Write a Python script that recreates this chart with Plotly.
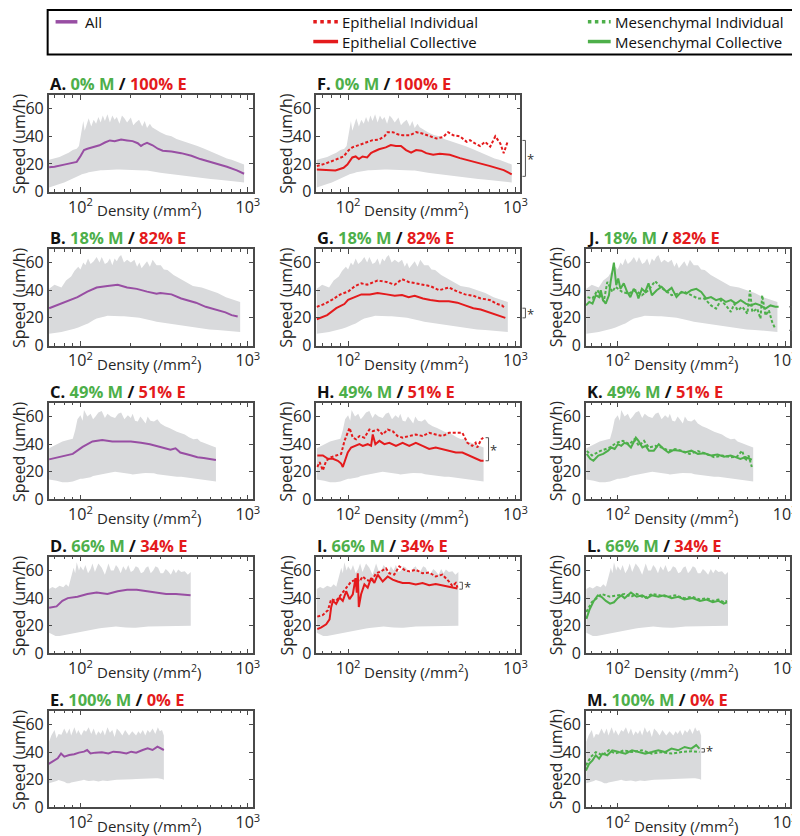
import math
import plotly.graph_objects as go

W, H = 800, 836
PURPLE = "#984EA3"
RED = "#E41A1C"
GREEN = "#4DAF4A"
BAND = "#D9DADC"
FRAME = "#4a4a4a"
FONT = "Open Sans"

# ---------------- data (density /mm^2, speed um/h) ----------------
# grey bands (one per row)
r1_x = [65, 70, 75, 80, 85, 90, 95, 98, 100, 102, 104, 106, 109, 112, 116, 120, 124, 128, 132, 136, 140, 145, 150, 155, 160, 165, 171, 177, 183, 190, 200, 207, 214, 224, 234, 242, 250, 260, 268, 280, 300, 325, 350, 375, 400, 450, 500, 550, 600, 650, 700, 750, 800, 850, 900, 950]
r1_hi = [23, 24, 25, 26.6, 28, 30, 31, 33, 40, 47, 51, 44, 48, 53, 47, 52, 49, 54, 50, 55, 51, 56, 50, 55, 52, 54, 49, 55, 53, 50, 53.6, 48, 50, 52, 47, 51, 46, 49, 46.6, 45, 43, 41, 40, 38, 37, 35, 33, 31, 29, 27, 25.4, 24, 23, 22, 20.7, 19.5]
r1_lo = [3, 4.2, 5.5, 6.6, 8, 9, 10.5, 11.5, 12, 12.5, 13, 13.2, 13.5, 14, 14.5, 14.8, 15, 15.2, 15.4, 15.5, 15.6, 15.8, 16, 16, 16, 16, 16, 16, 16, 16, 16, 15.9, 15.8, 15.6, 15.4, 15.3, 15.3, 15, 14.8, 14.4, 13.6, 13, 12.4, 11.8, 11.3, 10.6, 10, 9.5, 9, 8.8, 8.5, 8.2, 7.8, 7.4, 7, 6.6]

r2_x = [65, 70, 77, 82, 88, 92, 97, 100, 104, 107, 111, 115, 120, 125, 130, 134, 140, 145, 150, 155, 160, 165, 170, 175, 182, 190, 200, 210, 218, 225, 232, 240, 250, 260, 270, 285, 302, 315, 331, 360, 390, 430, 470, 530, 590, 660, 740, 820, 900]
r2_hi = [41, 44, 42, 47, 50, 54, 57, 55, 60, 58, 63, 59, 61, 64, 60, 64, 59, 60, 63, 58, 63, 61, 64, 65.5, 60, 62, 60, 62, 57, 60, 56, 58, 61, 57, 62, 58, 58, 55, 54.6, 51, 48.5, 46, 43, 42, 40, 38, 35, 33, 31.5]
r2_lo = [8.5, 9, 9.7, 10.5, 11.5, 12.2, 13, 13.8, 14.5, 15.2, 16, 17, 18.5, 19.5, 20, 20.5, 21, 21.5, 21.8, 21.8, 21.6, 21.5, 21.3, 21.2, 21.1, 21, 20.8, 20.5, 20.2, 20, 19.8, 19.4, 19, 18.5, 18, 17.2, 16.5, 16.2, 15.8, 15.2, 14.6, 14, 13.3, 12.4, 11.6, 11.3, 11, 10.3, 9.7]

r3_x = [65, 72, 78, 84, 90, 93, 96, 100, 103, 105, 110, 115, 119, 123, 128, 134, 140, 145, 152, 161, 168, 175, 183, 192, 200, 205, 212, 220, 228, 235, 245, 252, 262, 275, 288, 301, 320, 340, 360, 377, 400, 420, 445, 473, 500, 520, 545, 566, 600, 645]
r3_hi = [37, 40, 42, 43, 44, 50, 58, 61, 57, 64.7, 60, 62, 58, 60, 63, 64, 59, 62, 60, 59, 62, 63, 58, 61, 59, 62, 57, 56.5, 60, 58, 55, 60, 57, 56.5, 58, 55, 53, 51.8, 50, 49, 48, 47, 45, 43.5, 44, 42, 41, 40, 39, 37.6]
r3_lo = [14.5, 13.5, 12.5, 12.5, 13, 13.5, 14, 15, 15, 15, 15.5, 16, 17, 17.5, 18, 18.5, 18.8, 19, 19.5, 20, 19.5, 19, 18.9, 18.8, 18.5, 18, 18, 18.5, 18.8, 19, 19.2, 19.5, 19.3, 19, 18.3, 17.6, 17.3, 17, 16.8, 16.5, 16.5, 16.5, 15.8, 15, 14.8, 14.5, 14.2, 14, 13.5, 13]

r4_x = [65, 68, 71, 75, 79, 82, 85, 88, 91, 93, 95, 98, 100, 104, 107, 111, 115, 118, 122, 128, 134, 140, 147, 152, 158, 163, 168, 174, 180, 187, 193, 200, 207, 214, 222, 230, 238, 246, 254, 263, 272, 281, 291, 301, 312, 323, 334, 347, 360, 372, 384, 400, 420, 438, 456]
r4_hi = [46.6, 48, 47, 49, 47.8, 50, 48.2, 55, 62, 58, 66, 60, 63, 60, 64, 58, 61, 65, 59, 65, 62, 57, 65, 60, 60, 64, 62, 58, 63, 60, 64, 59, 60, 63, 62, 58, 59, 62, 63, 58, 60, 63, 62, 58, 58, 61, 59.5, 57, 61, 58, 60.7, 59, 59.5, 57, 59]
r4_lo = [15, 13.5, 12.5, 12.5, 13, 13.3, 13.6, 14, 14.5, 14.8, 15, 15.2, 15.5, 15.8, 16, 16.5, 17, 17.2, 17.5, 18, 18.4, 18.7, 19, 19.2, 19.3, 19.4, 19.5, 19.2, 19, 18.7, 18.4, 18.5, 18.6, 18.5, 18.4, 18.7, 19, 19.3, 19.5, 19.5, 19.5, 19.5, 19.5, 19.5, 19.5, 19.5, 19.5, 19.5, 19.5, 19.5, 19.5, 19.8, 20, 20, 20]

r5_x = [65, 67, 70, 72, 74, 77, 80, 83, 86, 88, 92, 95, 97, 101, 105, 108, 112, 116, 120, 124, 128, 132, 136, 140, 145, 150, 155, 160, 165, 172, 178, 185, 195, 204, 215, 222, 228, 236, 244, 252, 260, 270, 280, 290, 298, 307, 315]
r5_hi = [47.5, 52, 56, 50, 53, 52.6, 57, 53, 57, 52, 58, 53, 56, 52, 56, 54.7, 58, 53, 57, 52, 55, 53, 56, 52, 58, 54, 56, 51, 57, 54.7, 52, 56, 52, 55, 52, 55, 53, 56, 52, 56, 54, 57, 53, 58, 55, 56, 52]
r5_lo = [17.5, 18, 18.5, 19, 19.7, 19, 18.5, 17.5, 17.5, 18, 18.7, 19, 19.2, 19.5, 19.9, 19.5, 19, 19.3, 19.5, 19, 18.7, 19, 19.5, 19.2, 19, 19.3, 19.5, 19.8, 20, 20.2, 20.3, 20.5, 20.4, 20.4, 20.5, 20.8, 21, 20.8, 20.7, 20.8, 21, 21, 21, 21, 21, 20.5, 20]

# column 1: all cells
A_x = [65, 70, 80, 90, 95, 100, 105, 110, 120, 130, 140, 150, 160, 175, 190, 205, 220, 230, 240, 250, 270, 290, 310, 350, 400, 460, 520, 600, 650, 750, 860, 950]
A_all = [17.6, 18, 19.5, 20.5, 21.5, 25.5, 30, 31, 32.3, 33.5, 35.5, 37, 36.5, 37.6, 37, 36.5, 35, 33, 34.4, 35.3, 33.5, 31, 29.6, 29, 27.8, 25.9, 23.5, 21.4, 20, 17.9, 15.3, 12.9]

B_x = [65, 78, 96, 110, 125, 145, 167, 190, 217, 250, 285, 300, 350, 400, 428, 490, 560, 640, 735, 800, 870]
B_all = [27, 31, 35, 39, 42, 43, 44, 42, 41, 39, 37.5, 38, 37, 34, 33, 31, 28, 26, 24, 22, 21]

C_x = [65, 78, 90, 103, 118, 135, 155, 175, 200, 230, 260, 300, 345, 370, 395, 455, 500, 545, 600, 645]
C_all = [29, 31, 33, 38, 42, 43, 42, 42, 42, 41, 40, 38, 36, 37, 34, 32, 30.5, 30, 29, 28.5]

D_x = [65, 72, 78, 84, 96, 110, 125, 145, 167, 190, 217, 250, 285, 325, 372, 425, 455]
D_all = [33, 34, 38, 40, 41, 43, 44, 43, 45, 46, 46, 45, 44, 43, 43, 42, 42]

E_x = [64.6, 68.5, 73.2, 76.6, 80.1, 85.7, 91.7, 98, 105, 109.7, 114.8, 122.8, 134.3, 146.9, 157.2, 172, 188.2, 201.2, 215.3, 235.5, 252, 269.6, 288.4, 315]
E_all = [31.4, 33.6, 35.5, 39, 36.7, 37.9, 38.4, 39.6, 40.3, 41.5, 39, 39.6, 39.8, 39, 40.3, 39.8, 39, 40.3, 39.6, 41.5, 42.7, 41.5, 43.9, 41.5]

# column 2: epithelial
F_coll_x = [65, 84, 94, 99, 106, 111, 116, 122, 130, 137, 143, 153, 168, 180, 193, 207, 222, 238, 255, 274, 293, 322, 353, 405, 466, 535, 615, 707, 851, 950]
F_coll = [16, 15.3, 17.2, 19.5, 24.7, 25.4, 23.5, 25.4, 24.7, 27.8, 29, 30.6, 32, 33.6, 33, 33, 30, 28.2, 30, 29.6, 27.8, 26.6, 27.3, 26.6, 24.2, 22.4, 20.2, 18.4, 15.5, 12.5]
F_ind_x = [65, 73, 84, 94, 101, 106, 116, 128, 140, 153, 165, 172, 185, 198, 212, 233, 255, 280, 307, 337, 370, 396, 425, 466, 511, 535, 574, 615, 659, 707, 758, 812, 851, 897]
F_ind = [18.4, 20.2, 23, 25.4, 30, 32, 33.6, 35.3, 37.2, 37.6, 40, 43, 43, 41.4, 40.7, 40.7, 43, 41.9, 40, 38.4, 39.5, 43, 40.7, 40, 36, 37.2, 34.8, 33, 36, 32.5, 40, 34.8, 27.8, 36]

G_coll_x = [65, 75, 85, 95, 100, 110, 120, 135, 150, 170, 190, 210, 230, 250, 280, 310, 350, 400, 450, 500, 560, 620, 700, 780, 870]
G_coll = [19, 22, 27, 30, 33, 35, 37, 37, 38, 37, 36, 36.5, 35, 36, 34, 33, 32, 32, 31, 29, 27, 26, 24, 22, 20]
G_ind_x = [65, 72, 80, 90, 100, 110, 120, 130, 150, 170, 190, 210, 230, 250, 280, 310, 350, 400, 450, 500, 560, 620, 700, 780, 830, 870]
G_ind = [28, 30, 33, 37, 39, 43, 45, 44, 47, 46, 44, 48, 46, 45, 44, 43, 40, 42, 39, 37, 36, 34, 33, 30, 29, 27]

H_coll_x = [65.5, 70.7, 75.8, 81.2, 86.9, 90.9, 93, 95.2, 99.6, 104.3, 109.2, 116.9, 122.4, 131, 137.2, 140.4, 145.6, 153.8, 164.7, 176.4, 193.2, 211.7, 232, 254, 278.5, 305, 334, 366, 401, 440, 482, 528, 578, 620, 645]
H_coll = [31.8, 31.8, 29.4, 29.4, 28, 26, 23.5, 27, 34, 37.6, 38.8, 40, 38.8, 40, 38.8, 47, 40, 42.4, 40, 41, 38.8, 41, 38.8, 41, 38.8, 36.5, 37.6, 36.5, 35.3, 34, 34, 31.8, 29.4, 28, 28]
H_ind_x = [65.5, 67.6, 70.7, 74, 79.3, 84.9, 90.9, 95.2, 99.6, 102, 106.7, 111.7, 116.9, 125.2, 134.1, 140.4, 150.3, 161, 172.4, 184.6, 197.7, 211.7, 232, 254, 278.5, 305, 334, 366, 401, 440, 482, 516, 552, 578, 591, 625, 642]
H_ind = [23.5, 27, 21, 28, 30.6, 31.8, 33, 42.4, 49.4, 51.8, 44.7, 43.5, 45.9, 44.7, 50.6, 49.4, 50.6, 47, 50.6, 49.4, 45.9, 44.7, 45.9, 47, 45.9, 48.2, 47, 45.9, 48.2, 48.2, 48.2, 41, 38.8, 41, 37.6, 43.5, 44.7]

I_coll_x = [65.5, 69.2, 74, 77.5, 79.3, 81.2, 84.9, 88.9, 93, 97.4, 102, 106.7, 109.2, 110.7, 112.7, 114.3, 115.9, 119.6, 125.2, 131, 137.2, 143.6, 150.3, 161, 172.4, 184.6, 197.7, 211.7, 232, 254, 278.5, 305, 334, 366, 392, 420, 450]
I_coll = [17.6, 18.8, 21, 24.7, 33.6, 38, 35.8, 40.5, 38, 45, 39.3, 42.8, 50, 54.5, 44, 58, 33.6, 42.8, 50, 47.6, 54.5, 51, 57, 52, 55.7, 53.4, 52, 51, 51, 49.9, 51, 49.4, 50.3, 49.4, 48.7, 47.6, 47]
I_ind_x = [65.5, 70.7, 75.8, 79.3, 84.9, 90.9, 97.4, 104.3, 111.7, 116.9, 122.4, 128, 137.2, 147, 157, 168.4, 176.4, 188.8, 202.3, 216.6, 232, 254, 278.5, 305, 334, 366, 401, 420, 440, 450]
I_ind = [26.6, 27.8, 31.3, 39.3, 38, 42.8, 47.6, 52, 53.4, 52, 55.7, 53.4, 52, 58, 59.3, 61.6, 58, 57, 63, 60.5, 59.3, 60.5, 58, 58.5, 55.7, 57, 52, 48.7, 51, 47.6]

# column 3: mesenchymal
J_coll_x = [64.6, 67.6, 70.7, 74, 77.4, 79.2, 81.7, 84.8, 88.7, 90.7, 94.9, 98, 100.7, 103.9, 108.7, 113.8, 119, 124.6, 130.3, 133, 139.5, 146, 152.8, 160, 171, 183, 196, 210, 224.5, 240, 257, 275, 295, 315.5, 338, 361, 387, 414, 443, 475, 508, 543, 582, 622, 666, 713, 764, 817, 875, 915]
J_coll = [29, 31.5, 30.3, 36.4, 35, 40, 32.8, 30.3, 36.4, 46, 60, 43.7, 48.5, 41, 45, 38.8, 35, 41, 37.6, 34, 41, 38.8, 45, 36.4, 40, 42.5, 38.8, 41.7, 35, 38.8, 37.6, 40, 41, 38.8, 34, 35, 32.8, 34, 31.5, 32.8, 30.3, 32.8, 30.3, 29, 30.3, 29, 26.7, 29, 28, 28]
J_ind_x = [66, 70.7, 75.7, 82.6, 86.7, 92.8, 97, 106.3, 116.3, 127.3, 139.5, 152.8, 167.3, 179.6, 191.5, 210, 229.6, 251, 275, 301, 330, 361, 387, 414, 443, 475, 497, 520, 556, 595, 617, 637, 682, 713, 730, 764, 800, 837, 875]
J_ind = [35, 34, 40, 32, 46, 38.8, 42.5, 38.8, 37.6, 40, 36.4, 40, 46.6, 42.5, 40, 36.4, 37.6, 38.8, 36.4, 34, 34, 29, 26.7, 32.8, 29, 24.3, 30.3, 25.5, 28, 23, 40, 24.3, 26.7, 19.4, 36.4, 21.8, 25.5, 17, 12]

K_coll_x = [65.3, 68.5, 71.6, 76.6, 81.9, 87.6, 91.6, 95.9, 100.3, 105, 109.7, 114.8, 120, 128.4, 133.1, 140.5, 147, 153.7, 164.4, 175.9, 188.2, 201.3, 215.3, 235.5, 252, 275.6, 301.6, 330, 361, 395, 432, 473, 506, 541, 579, 605, 633]
K_coll = [33, 29.4, 28, 31.8, 33, 35.3, 37.6, 36.5, 40, 38.8, 41, 40, 37.6, 44.7, 42.4, 37.6, 38.8, 35.3, 35.3, 40, 36.5, 34, 35.8, 35.3, 34, 35.3, 33, 33.4, 31.8, 32.5, 31, 31.8, 30.6, 29.4, 30.6, 29.4, 28.7]
K_ind_x = [65.3, 70.2, 78.3, 89.7, 98.2, 107.5, 117.6, 125.8, 134.3, 143.7, 153.7, 168, 183.8, 201.3, 220, 241, 269, 301.6, 337, 377, 422, 473, 517, 554, 579, 605, 633]
K_ind = [35, 31.8, 35, 37.6, 41, 42.4, 40, 43.5, 38.8, 42.4, 37.6, 38.8, 37.6, 35.3, 36.5, 35.3, 33, 35, 33, 30.6, 31.8, 30.6, 31, 35.3, 28, 31.8, 23.5]

L_coll_x = [65, 68, 72, 76, 80, 85, 90, 95, 100, 105, 110, 115, 120, 130, 140, 150, 160, 175, 190, 210, 230, 250, 280, 310, 340, 370, 400, 430, 450]
L_coll = [25, 32, 38, 42, 41, 38, 36, 37, 40, 42, 40, 42, 44, 41, 42, 40, 42, 41, 42, 40, 41, 39, 40, 38, 39, 37, 38, 36, 37]
L_ind_x = [65, 70, 75, 80, 90, 100, 110, 120, 130, 145, 160, 180, 200, 220, 250, 280, 310, 340, 370, 400, 430, 450]
L_ind = [30, 37, 40, 43, 41, 42, 43, 41, 43, 40, 43, 42, 41, 42, 40, 41, 39, 40, 38, 39, 37, 38]

M_coll_x = [64.6, 67.6, 70.7, 74, 77.4, 81, 86.7, 92.8, 101.6, 111.2, 121.8, 133.3, 146, 159.8, 174.9, 191.5, 209.7, 229.6, 251.2, 275.2, 294.4, 308]
M_coll = [26.7, 31.6, 34, 37.7, 35.2, 38.9, 37.7, 41.3, 40, 38.9, 41.3, 40, 38.9, 40, 41.3, 40, 42.5, 41.3, 43.7, 42.5, 45, 42.5]
M_ind_x = [64.6, 69.1, 74, 81, 88.6, 97, 108.7, 121.8, 139.5, 159.8, 183, 209.7, 240.3, 275.2, 308]
M_ind = [30.4, 36.5, 40, 37.7, 41.3, 38.9, 41.3, 40, 41.3, 38.9, 40, 38.9, 40, 40.6, 40]

# panel labels and mixture percentages
letters = ["A", "F", "B", "G", "J", "C", "H", "K", "D", "I", "L", "E", "M"]
pct_M = ["0%", "0%", "18%", "18%", "18%", "49%", "49%", "49%", "66%", "66%", "66%", "100%", "100%"]
pct_E = ["100%", "100%", "82%", "82%", "82%", "51%", "51%", "51%", "34%", "34%", "34%", "0%", "0%"]
# significance brackets: (panel letter, upper value, lower value, density at data end)
sig_brackets = [("F", 37, 11, 950), ("G", 27, 20, 870), ("H", 44.7, 28, 645),
                ("I", 51.5, 46.5, 450), ("J", 28, 11, 915), ("M", 42.5, 40, 308)]

# ---------------- layout geometry (pixels) ----------------
XR = [1.81, 3.03]
COL_L = [41, 311, 583]
PW = 206
ROW_B = [186, 342, 498, 654, 810]
PH = 98

bands = {0: (r1_x, r1_lo, r1_hi), 1: (r2_x, r2_lo, r2_hi), 2: (r3_x, r3_lo, r3_hi),
         3: (r4_x, r4_lo, r4_hi), 4: (r5_x, r5_lo, r5_hi)}

SOLID = "solid"
DOT = "3px,2px"
panel_defs = {
    "A": (0, 0, [(A_x, A_all, PURPLE, SOLID)]),
    "F": (0, 1, [(F_ind_x, F_ind, RED, DOT), (F_coll_x, F_coll, RED, SOLID)]),
    "B": (1, 0, [(B_x, B_all, PURPLE, SOLID)]),
    "G": (1, 1, [(G_ind_x, G_ind, RED, DOT), (G_coll_x, G_coll, RED, SOLID)]),
    "J": (1, 2, [(J_ind_x, J_ind, GREEN, DOT), (J_coll_x, J_coll, GREEN, SOLID)]),
    "C": (2, 0, [(C_x, C_all, PURPLE, SOLID)]),
    "H": (2, 1, [(H_ind_x, H_ind, RED, DOT), (H_coll_x, H_coll, RED, SOLID)]),
    "K": (2, 2, [(K_ind_x, K_ind, GREEN, DOT), (K_coll_x, K_coll, GREEN, SOLID)]),
    "D": (3, 0, [(D_x, D_all, PURPLE, SOLID)]),
    "I": (3, 1, [(I_ind_x, I_ind, RED, DOT), (I_coll_x, I_coll, RED, SOLID)]),
    "L": (3, 2, [(L_ind_x, L_ind, GREEN, DOT), (L_coll_x, L_coll, GREEN, SOLID)]),
    "E": (4, 0, [(E_x, E_all, PURPLE, SOLID)]),
    "M": (4, 2, [(M_ind_x, M_ind, GREEN, DOT), (M_coll_x, M_coll, GREEN, SOLID)]),
}


def px(x):
    return x / W


def py(y):
    return 1 - y / H


fig = go.Figure()
layout = {}
annotations = []
shapes = []
minor_vals = [70, 80, 90, 200, 300, 400, 500, 600, 700, 800, 900]
tickfont = dict(family=FONT, size=16, color="#262626")
labfont = dict(family=FONT, size=15, color="#262626")

panel_pos = {}
for i, letter in enumerate(letters, start=1):
    row, col, lines = panel_defs[letter]
    L = COL_L[col]
    B = ROW_B[row]
    panel_pos[letter] = (row, col)
    xa = "x" if i == 1 else f"x{i}"
    ya = "y" if i == 1 else f"y{i}"
    xk = "xaxis" if i == 1 else f"xaxis{i}"
    yk = "yaxis" if i == 1 else f"yaxis{i}"
    layout[xk] = dict(domain=[px(L), px(L + PW)], anchor=ya, type="log", range=XR,
                      tickvals=[100, 1000], ticktext=["10<sup>2</sup>", "10<sup>3</sup>"],
                      ticks="inside", ticklen=5, tickwidth=1, tickcolor=FRAME,
                      minor=dict(tickvals=minor_vals, ticks="inside", ticklen=3, tickwidth=1, tickcolor=FRAME),
                      showline=True, linecolor=FRAME, linewidth=1.5, mirror="ticks",
                      showgrid=False, zeroline=False, tickfont=tickfont, ticklabeloverflow="allow")
    layout[yk] = dict(domain=[py(B), py(B - PH)], anchor=xa, range=[0, 70],
                      tickvals=[0, 20, 40, 60], ticks="inside", ticklen=4, tickwidth=1, tickcolor=FRAME,
                      showline=True, linecolor=FRAME, linewidth=1.5, mirror="ticks",
                      showgrid=False, zeroline=False, tickfont=tickfont)
    bx, blo, bhi = bands[row]
    fig.add_trace(go.Scatter(x=list(bx) + list(bx)[::-1], y=list(bhi) + list(blo)[::-1],
                             fill="toself", fillcolor=BAND, mode="lines", line=dict(width=0),
                             hoverinfo="skip", showlegend=False, xaxis=xa, yaxis=ya))
    for lx, ly, c, d in lines:
        fig.add_trace(go.Scatter(x=lx, y=ly, mode="lines", line=dict(color=c, width=2, dash=d),
                                 showlegend=False, xaxis=xa, yaxis=ya))
    idx = letters.index(letter)
    title = (f"<b>{letter}. <span style='color:{GREEN}'>{pct_M[idx]} M</span> / "
             f"<span style='color:{RED}'>{pct_E[idx]} E</span></b>")
    annotations.append(dict(text=title, x=px(L - 1), y=py(B - PH - 11.5), xref="paper", yref="paper",
                            xanchor="left", yanchor="middle", showarrow=False,
                            font=dict(family=FONT, size=16.5, color="#111")))
    annotations.append(dict(text="Speed (um/h)", x=px(L - 30), y=py(B - PH / 2), xref="paper", yref="paper",
                            xanchor="center", yanchor="middle", textangle=-90, showarrow=False,
                            font=dict(family=FONT, size=16, color="#262626")))
    annotations.append(dict(text="Density (/mm<sup>2</sup>)", x=px(L + 101), y=py(B + 18), xref="paper",
                            yref="paper", xanchor="center", yanchor="middle", showarrow=False,
                            font=labfont))


def val_y(row, v):
    return ROW_B[row] - v / 70 * PH


def dens_x(col, d):
    return COL_L[col] + (math.log10(d) - XR[0]) / (XR[1] - XR[0]) * PW


# significance brackets
for letter, vhi, vlo, dend in sig_brackets:
    row, col = panel_pos[letter]
    if letter in ("F", "G"):
        xv = COL_L[col] + PW + 5
    elif letter == "J":
        xv = COL_L[col] + PW + 2
    else:
        xv = dens_x(col, dend) + 5
    y1 = val_y(row, vhi)
    y2 = val_y(row, vlo)
    for (a, b, c, d) in [(xv, y1, xv, y2), (xv - 3, y1, xv, y1), (xv - 3, y2, xv, y2)]:
        shapes.append(dict(type="line", xref="paper", yref="paper", x0=px(a), y0=py(b), x1=px(c), y1=py(d),
                           line=dict(color="#555", width=1)))
    ax = min(xv + 5.5, 795.5)
    annotations.append(dict(text="*", x=px(ax), y=py((y1 + y2) / 2 + 1), xref="paper", yref="paper",
                            xanchor="center", yanchor="middle", showarrow=False, borderpad=0,
                            font=dict(family=FONT, size=13, color="#333")))

# legend box (drawn manually)
shapes.append(dict(type="rect", xref="paper", yref="paper", x0=px(40), x1=px(793), y0=py(47), y1=py(2),
                   line=dict(color="black", width=2)))
legend_items = [("All", PURPLE, "solid", 48, 70, 14),
                ("Epithelial Individual", RED, "dot", 308, 333, 14),
                ("Epithelial Collective", RED, "solid", 308, 333, 34),
                ("Mesenchymal Individual", GREEN, "dot", 585, 608, 14),
                ("Mesenchymal Collective", GREEN, "solid", 585, 608, 34)]
for name, c, d, xa0, xa1, yy in legend_items:
    shapes.append(dict(type="line", xref="paper", yref="paper", x0=px(xa0), x1=px(xa1), y0=py(yy), y1=py(yy),
                       line=dict(color=c, width=3.5, dash=d)))
    annotations.append(dict(text=name, x=px(xa1 + (6 if name == "All" else 2)), y=py(yy), xref="paper",
                            yref="paper", xanchor="left", yanchor="middle", showarrow=False,
                            font=dict(family=FONT, size=15, color="#111")))

fig.update_layout(width=W, height=H, margin=dict(l=0, r=0, t=0, b=0),
                  paper_bgcolor="white", plot_bgcolor="white", showlegend=False,
                  font=dict(family=FONT), annotations=annotations, shapes=shapes, **layout)
fig.write_html("out.html")
